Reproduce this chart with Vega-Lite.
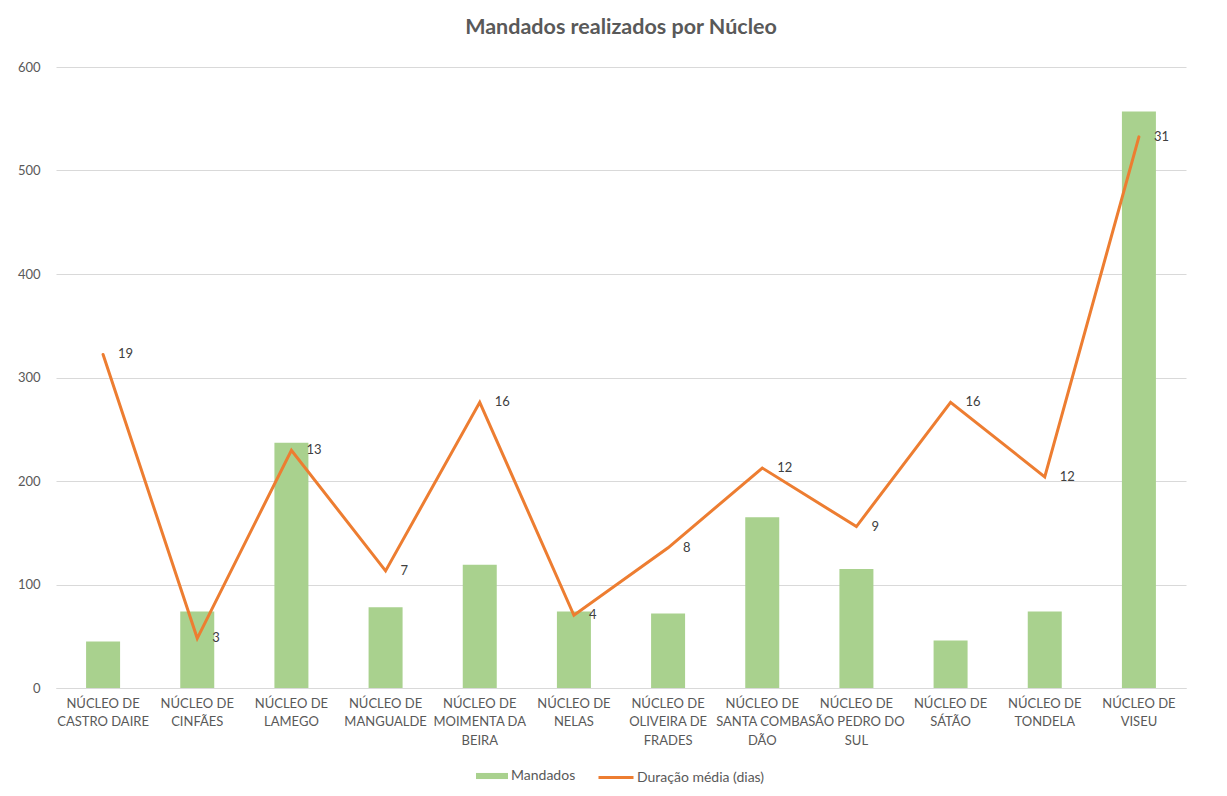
{
  "$schema": "https://vega.github.io/schema/vega-lite/v6.json",
  "autosize": "none",
  "width": 1130,
  "height": 621,
  "padding": {"left": 56, "top": 67, "right": 41, "bottom": 108},
  "background": "white",
  "config": {
    "font": "Lato",
    "view": {"stroke": null},
    "axis": {"labelColor": "#595959", "labelFont": "Lato", "labelFontSize": 13, "titleColor": "#595959"},
    "legend": {"labelColor": "#595959", "labelFont": "Lato", "labelFontSize": 14}
  },
  "title": {
    "text": "Mandados realizados por Núcleo",
    "fontSize": 21.5,
    "fontWeight": "bold",
    "color": "#595959",
    "font": "Lato",
    "offset": 23,
    "anchor": "middle"
  },
  "data": {
    "values": [
      {"cat": "NÚCLEO DE|CASTRO DAIRE", "mandados": 45, "duracao": 18.8, "serieA": "Mandados", "serieB": "Duração média (dias)"},
      {"cat": "NÚCLEO DE|CINFÃES", "mandados": 74, "duracao": 2.8, "serieA": "Mandados", "serieB": "Duração média (dias)"},
      {"cat": "NÚCLEO DE|LAMEGO", "mandados": 237, "duracao": 13.4, "serieA": "Mandados", "serieB": "Duração média (dias)"},
      {"cat": "NÚCLEO DE|MANGUALDE", "mandados": 78, "duracao": 6.6, "serieA": "Mandados", "serieB": "Duração média (dias)"},
      {"cat": "NÚCLEO DE|MOIMENTA DA|BEIRA", "mandados": 119, "duracao": 16.1, "serieA": "Mandados", "serieB": "Duração média (dias)"},
      {"cat": "NÚCLEO DE|NELAS", "mandados": 74, "duracao": 4.1, "serieA": "Mandados", "serieB": "Duração média (dias)"},
      {"cat": "NÚCLEO DE|OLIVEIRA DE|FRADES", "mandados": 72, "duracao": 7.9, "serieA": "Mandados", "serieB": "Duração média (dias)"},
      {"cat": "NÚCLEO DE|SANTA COMBA|DÃO", "mandados": 165, "duracao": 12.4, "serieA": "Mandados", "serieB": "Duração média (dias)"},
      {"cat": "NÚCLEO DE|SÃO PEDRO DO|SUL", "mandados": 115, "duracao": 9.1, "serieA": "Mandados", "serieB": "Duração média (dias)"},
      {"cat": "NÚCLEO DE|SÁTÃO", "mandados": 46, "duracao": 16.1, "serieA": "Mandados", "serieB": "Duração média (dias)"},
      {"cat": "NÚCLEO DE|TONDELA", "mandados": 74, "duracao": 11.9, "serieA": "Mandados", "serieB": "Duração média (dias)"},
      {"cat": "NÚCLEO DE|VISEU", "mandados": 557, "duracao": 31.06, "serieA": "Mandados", "serieB": "Duração média (dias)"}
    ]
  },
  "encoding": {
    "x": {
      "field": "cat",
      "type": "nominal",
      "sort": null,
      "scale": {"paddingInner": 0, "paddingOuter": 0},
      "axis": {
        "title": null,
        "labelAngle": 0,
        "labelExpr": "split(datum.label, '|')",
        "labelLineHeight": 18.5,
        "labelPadding": 9,
        "labelBaseline": "top",
        "ticks": false,
        "domainColor": "#D9D9D9",
        "labelLimit": 200
      }
    }
  },
  "layer": [
    {
      "mark": {"type": "bar", "size": 34},
      "encoding": {
        "y": {
          "field": "mandados",
          "type": "quantitative",
          "scale": {"domain": [0, 600]},
          "axis": {
            "title": null,
            "values": [0, 100, 200, 300, 400, 500, 600],
            "domain": false,
            "ticks": false,
            "labelPadding": 16,
            "gridColor": "#D9D9D9",
            "labelColor": "#595959"
          }
        },
        "fill": {
          "field": "serieA",
          "type": "nominal",
          "scale": {"range": ["#A9D18E"]},
          "legend": {
            "title": null,
            "orient": "none",
            "legendX": 420,
            "legendY": 693,
            "symbolType": "M-1,-0.19H1V0.19H-1Z",
            "symbolSize": 1024,
            "symbolStrokeWidth": 0,
            "labelOffset": 3
          }
        }
      }
    },
    {
      "layer": [
        {
          "mark": {"type": "line", "strokeWidth": 3, "strokeCap": "round"},
          "encoding": {
            "y": {
              "field": "duracao",
              "type": "quantitative",
              "scale": {"domain": [0, 35]},
              "axis": null
            },
            "stroke": {
              "field": "serieB",
              "type": "nominal",
              "scale": {"range": ["#ED7D31"]},
              "legend": {
                "title": null,
                "orient": "none",
                "legendX": 541,
                "legendY": 691.5,
                "symbolType": "stroke",
                "symbolSize": 1225,
                "symbolStrokeWidth": 3,
                "labelOffset": 2
              }
            }
          }
        },
        {
          "mark": {"type": "text", "align": "left", "dx": 15, "fontSize": 13, "color": "#404040", "font": "Lato"},
          "encoding": {
            "y": {"field": "duracao", "type": "quantitative", "scale": {"domain": [0, 35]}, "axis": null},
            "text": {"field": "duracao", "type": "quantitative", "format": ".0f"}
          }
        }
      ]
    }
  ],
  "resolve": {"scale": {"y": "independent", "fill": "independent", "stroke": "independent"}}
}
